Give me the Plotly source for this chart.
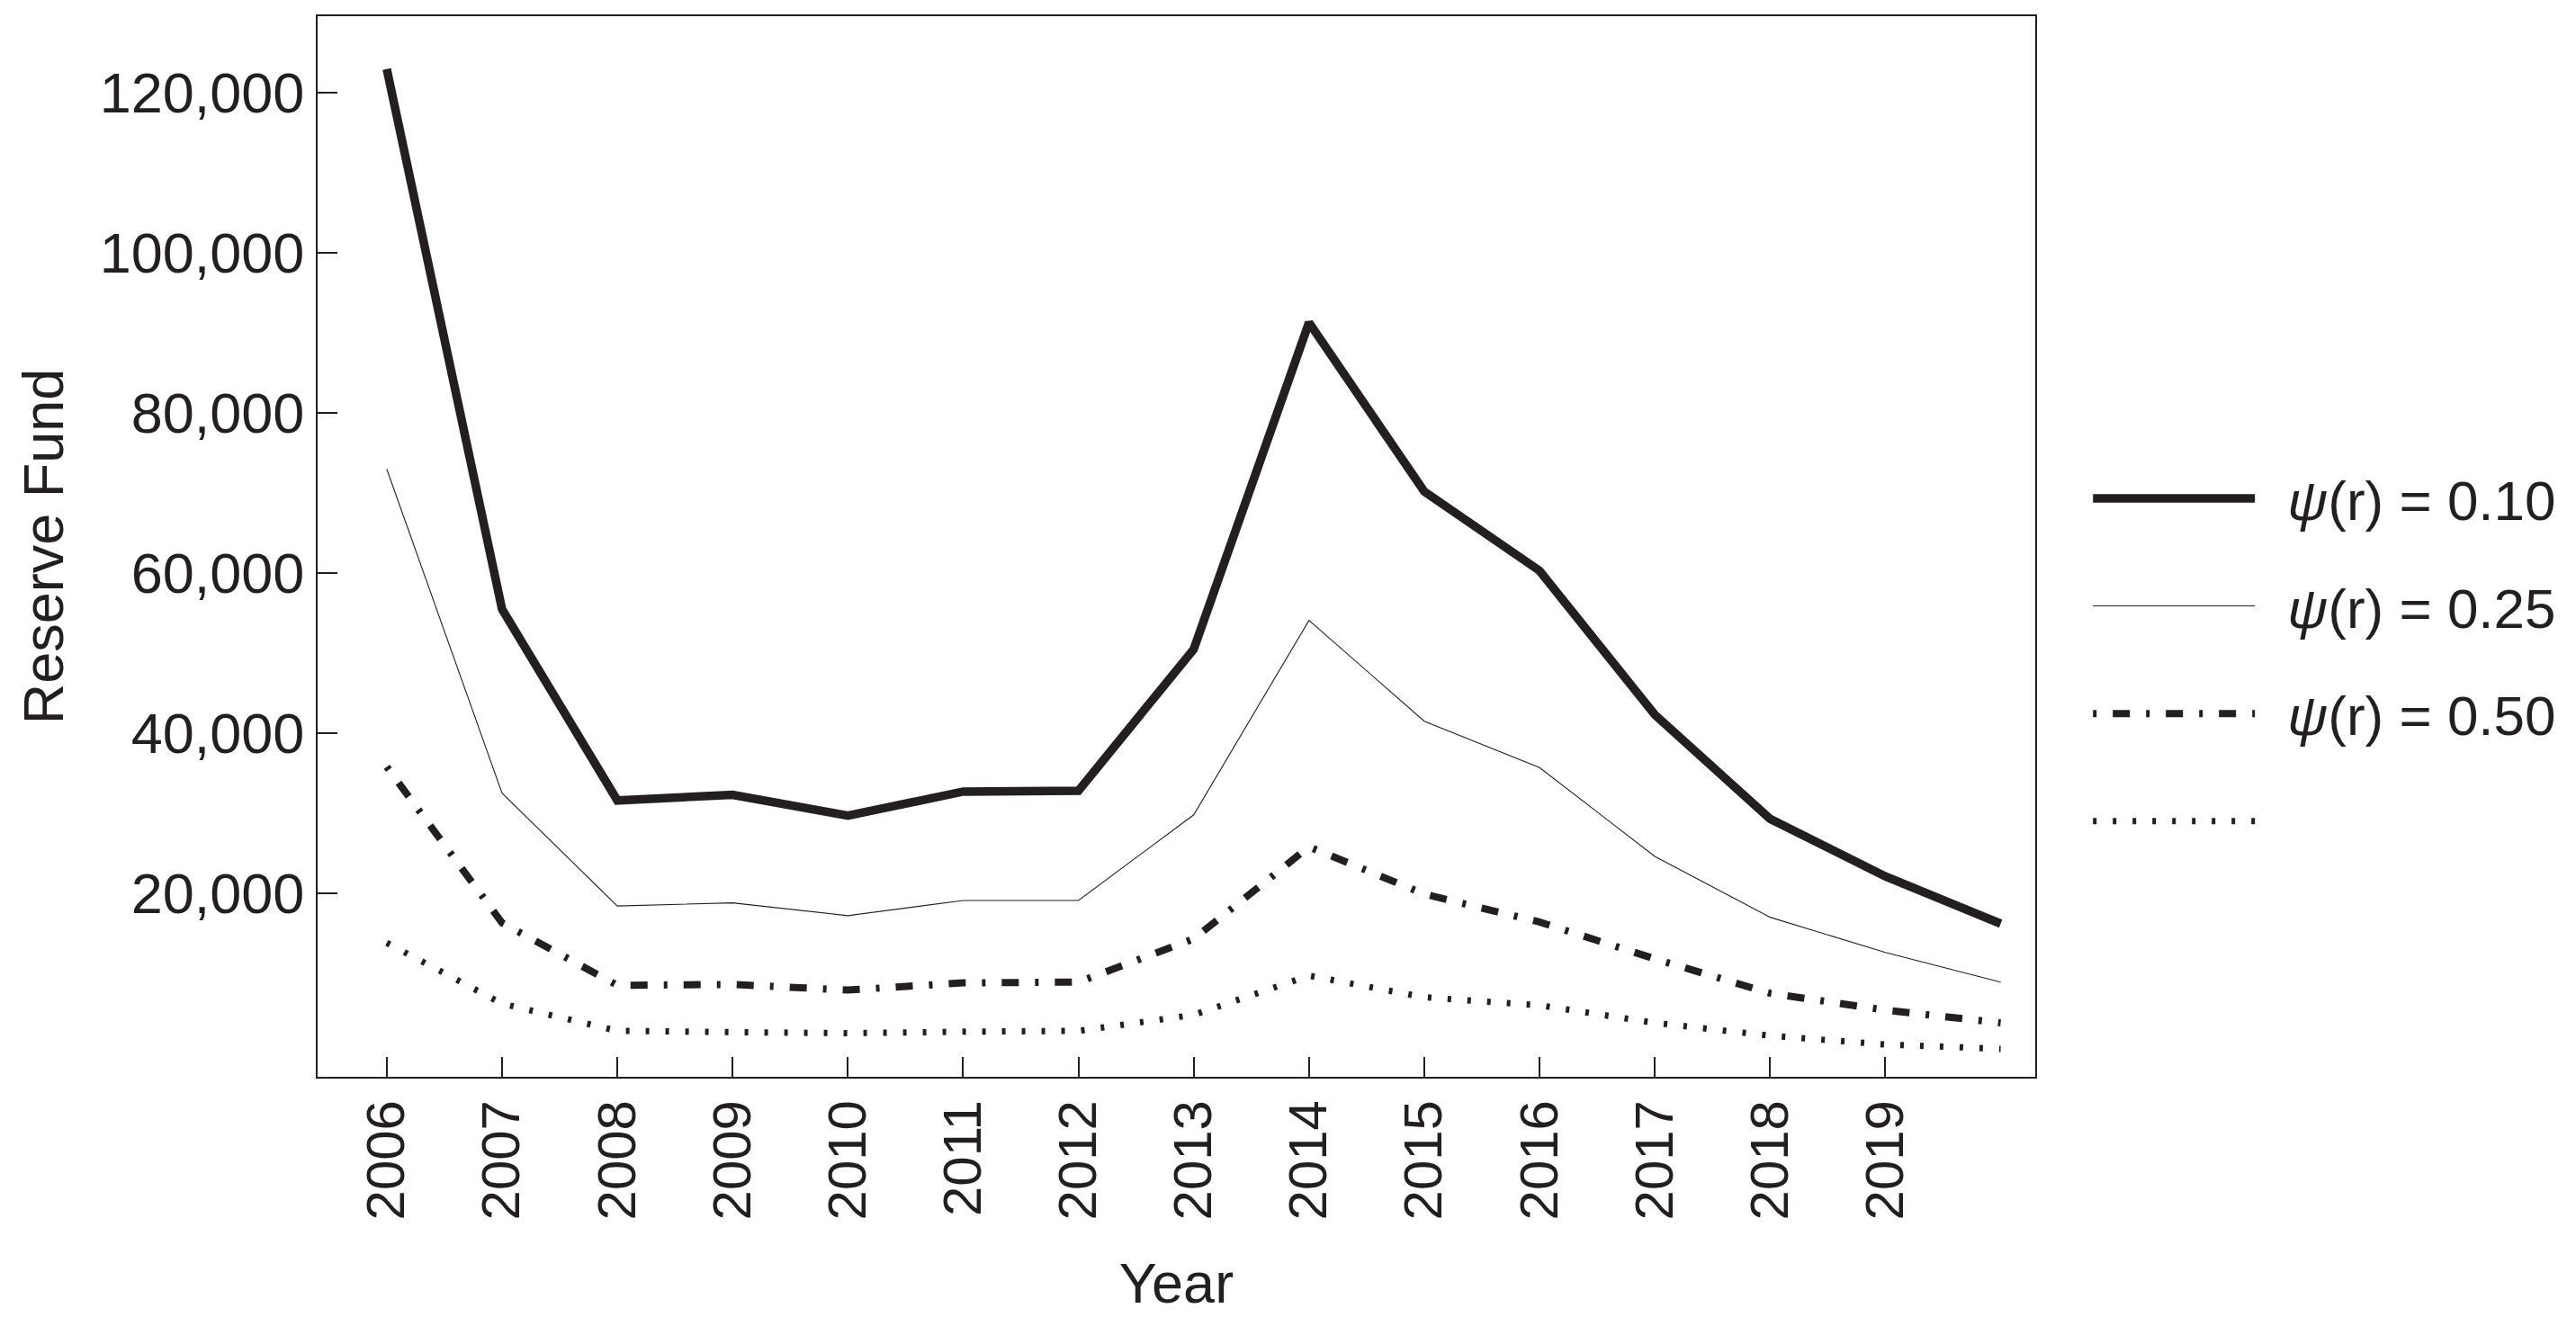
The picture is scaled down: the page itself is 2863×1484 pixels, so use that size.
import plotly.graph_objects as go

years = list(range(2006, 2021))
tick_years = list(range(2006, 2020))

psi_010 = [123000, 55500, 31600, 32300, 29700, 32700, 32800, 50500, 91300, 70200, 60300, 42300, 29300, 22100, 16200]
psi_025 = [73000, 32500, 18400, 18800, 17200, 19100, 19100, 29800, 54100, 41500, 35700, 24600, 17000, 12600, 8900]
psi_050 = [35800, 16300, 8500, 8600, 7900, 8800, 8900, 14300, 25800, 19900, 16400, 11800, 7500, 5400, 3800]
psi_100 = [13800, 6200, 2800, 2700, 2500, 2700, 2800, 4800, 9700, 7000, 6000, 3800, 2200, 1100, 550]

gap = "\u2002"
names = [gap + "<i>ψ</i>(r) = 0.10", gap + "<i>ψ</i>(r) = 0.25", gap + "<i>ψ</i>(r) = 0.50", " "]
ytick_vals = [20000, 40000, 60000, 80000, 100000, 120000]

ink = "#231f20"
font = "Liberation Sans, Arial, sans-serif"

fig = go.Figure()
fig.add_trace(go.Scatter(x=years, y=psi_010, mode="lines", name=names[0], legendgroup="a",
                         line=dict(color=ink, width=9.5)))
fig.add_trace(go.Scatter(x=years, y=psi_025, mode="lines", name=names[1], legendgroup="b",
                         line=dict(color=ink, width=1.1)))
fig.add_trace(go.Scatter(x=years, y=psi_050, mode="lines", name=names[2], legendgroup="c",
                         line=dict(color=ink, width=8, dash="4px,18px,19px,18px")))
fig.add_trace(go.Scatter(x=years, y=psi_100, mode="lines", name=names[3], legendgroup="d",
                         line=dict(color=ink, width=7, dash="4px,18px")))

fig.update_layout(
    width=2863, height=1484,
    margin=dict(l=345, r=609, t=8, b=295),
    paper_bgcolor="white", plot_bgcolor="white",
    font=dict(family=font, size=60, color=ink),
    showlegend=True,
    legend=dict(x=1.031, y=0.393, xanchor="left", yanchor="middle",
                itemwidth=180, tracegroupgap=36, font=dict(size=62),
                bgcolor="rgba(0,0,0,0)"),
    xaxis=dict(range=[2005.4, 2020.3], tickmode="array", tickvals=tick_years,
               ticktext=[str(y) for y in tick_years], tickangle=-90,
               ticks="inside", ticklen=22, tickwidth=1.5, tickcolor=ink,
               showline=True, linecolor=ink, linewidth=2, mirror=True,
               showgrid=False, zeroline=False,
               title=dict(text="Year", font=dict(size=63), standoff=48),
               tickfont=dict(size=60)),
    yaxis=dict(range=[-2940, 129600], tickmode="array", tickvals=ytick_vals,
               tickformat=",", ticks="inside", ticklen=22, tickwidth=1.5, tickcolor=ink,
               showline=True, linecolor=ink, linewidth=2, mirror=True,
               showgrid=False, zeroline=False,
               title=dict(text="Reserve Fund", font=dict(size=63), standoff=20),
               tickfont=dict(size=63)),
)

fig.write_html("out.html")
